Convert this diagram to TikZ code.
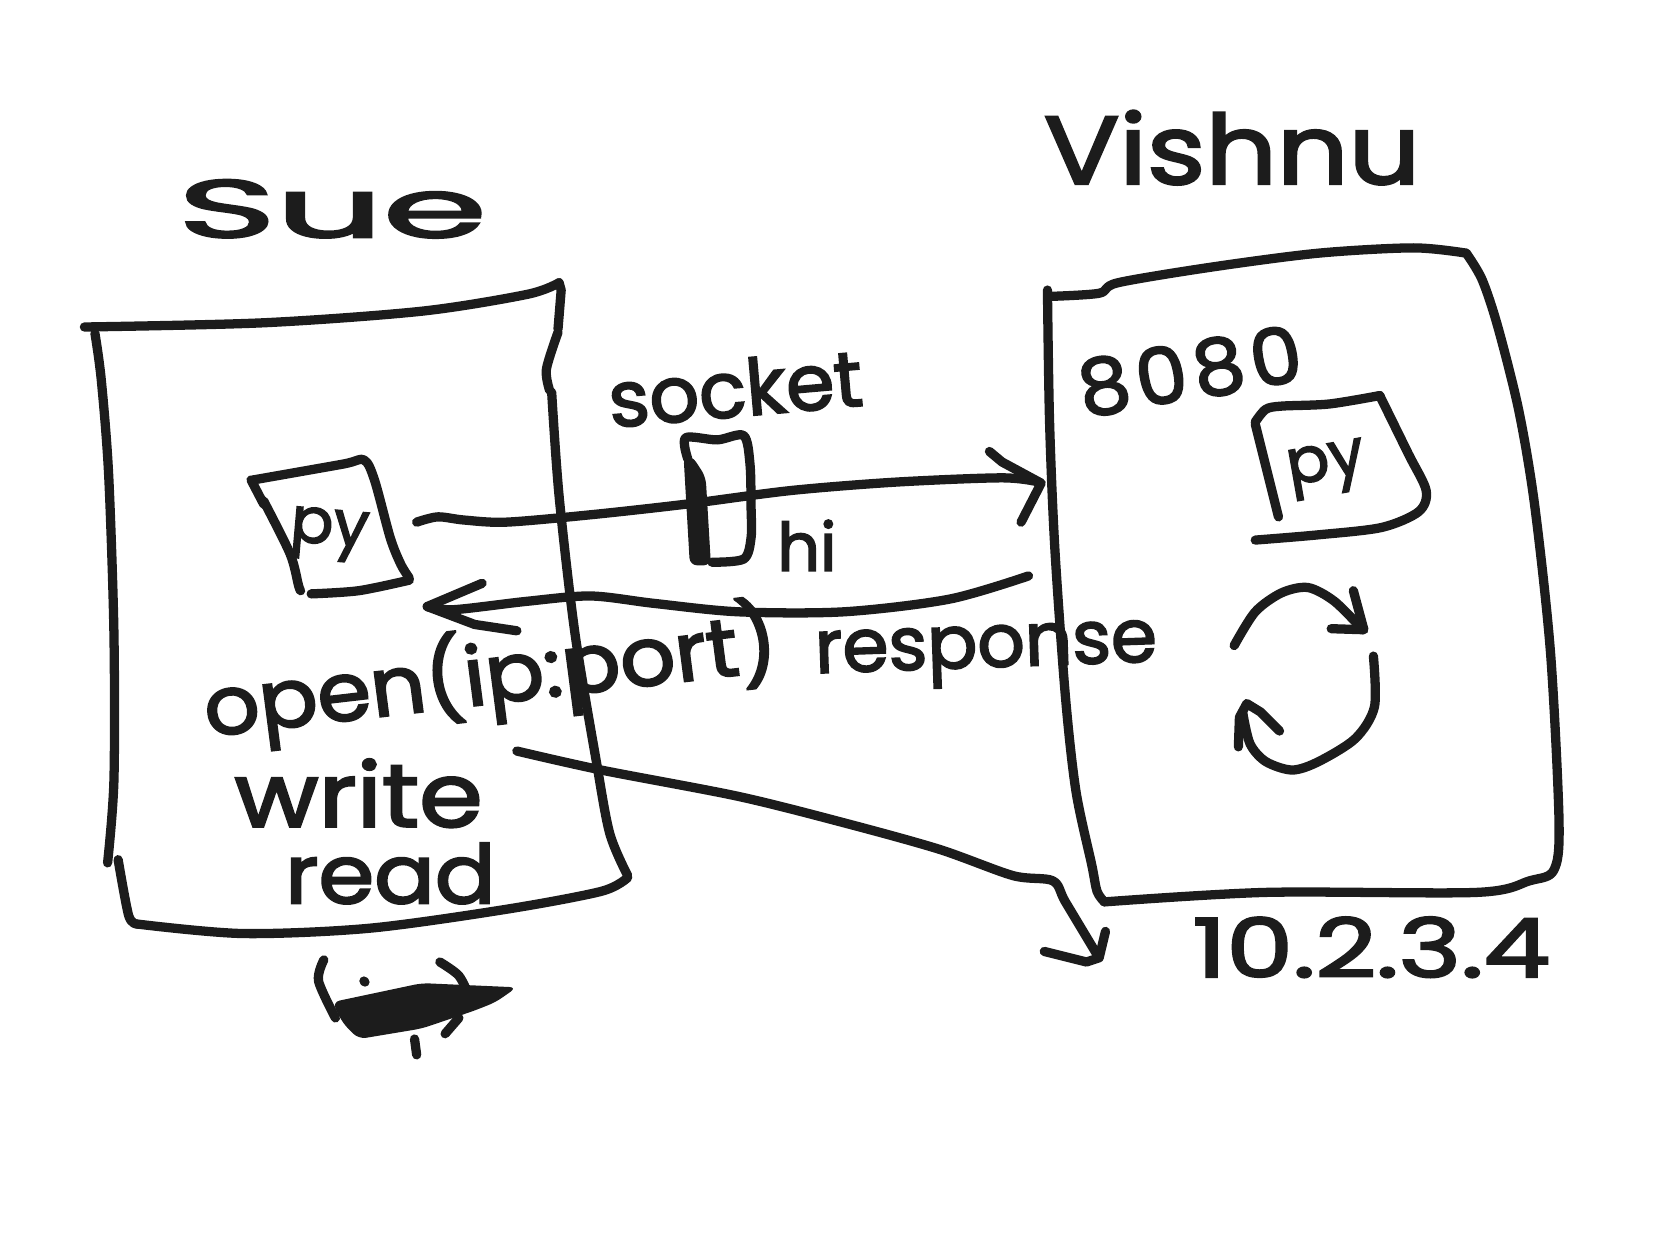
\documentclass[tikz,border=0pt]{standalone}
\usepackage{fontspec}
\newfontfamily\handfont{Poppins}[FakeBold=2.5]
\definecolor{ink}{HTML}{1C1C1C}
\tikzset{
	sketch/.style={color=ink, line width=2.5pt, line cap=round, line join=round},
	hand/.style={text=ink, inner sep=0pt, font=\fontsize{#1}{#1}\selectfont\handfont},
	hand/.default=18
}
\begin{document}
\begin{tikzpicture}[x=0.01cm, y=-0.01cm]
	\useasboundingbox (0,0) rectangle (1568,1176);

	% Draw left box
	\draw[sketch] plot[smooth] coordinates {(80,310) (250,306) (400,295) (500,279) (530,268)};
	\draw[sketch] (530,268) -- (532,275) -- (529,312);
	\draw[sketch] plot[smooth] coordinates {(529,315) (518,350) (521,370)};
	\draw[sketch] plot[smooth] coordinates {(523,372) (530,470) (545,600) (565,720) (578,790) (595,830)};
	\draw[sketch] plot[smooth] coordinates {(595,832) (570,845) (480,862) (350,880) (230,885) (130,876)};
	\draw[sketch] plot[smooth] coordinates {(130,876) (122,868) (112,815)};
	\draw[sketch] plot[smooth] coordinates {(90,316) (96,360) (103,450) (108,600) (108,740) (102,818)};

	% Draw right box
	\draw[sketch] plot[smooth] coordinates {(993,275) (995,400) (1000,520) (1010,660) (1020,750) (1035,820) (1040,845) (1047,855)};
	\draw[sketch] plot[smooth] coordinates {(1047,855) (1200,846) (1400,846) (1450,835) (1473,825) (1478,780) (1470,620) (1455,480) (1440,390) (1420,310) (1405,265) (1390,240)};
	\draw[sketch] plot[smooth] coordinates {(1390,240) (1340,235) (1250,240) (1150,253) (1060,268) (1042,278) (995,281)};

	% Left py box
	\draw[sketch] (250,478) -- (238,455);
	\draw[sketch] plot[smooth] coordinates {(240,455) (325,440) (345,436) (355,455) (370,510) (380,535) (388,548)};
	\draw[sketch] plot[smooth] coordinates {(388,550) (340,560) (295,563)};
	\draw[sketch] plot[smooth] coordinates {(250,475) (275,525) (283,555) (285,560)};
	\node[hand=17, rotate=-5] (pyleft) at (312,507) {py};

	% Right py box
	\draw[sketch] (1190,402) -- (1212,490);
	\draw[sketch] plot[smooth] coordinates {(1190,400) (1200,388) (1215,385) (1260,383) (1308,375)};
	\draw[sketch] plot[smooth] coordinates {(1308,375) (1335,430) (1352,465) (1345,485) (1310,500) (1250,507) (1190,512)};
	\node[hand=17, rotate=10] (pyright) at (1258,445) {py};

	% Socket
	\draw[sketch] plot[smooth] coordinates {(652,435) (650,415) (680,417) (705,413) (711,440) (712,480) (712,510) (705,530) (675,533)};
	\fill[ink, rounded corners=2pt] (648,432) -- (656,432) -- (669,452) -- (674,536) -- (654,536) -- cycle;

	% Request arrow
	\draw[sketch] plot[smooth] coordinates {(395,495) (415,490) (440,493) (480,495) (560,488) (650,478) (750,465) (850,457) (950,453) (985,457)};
	\draw[sketch] (938,428) -- (950,438) -- (987,458) -- (968,495);

	% Response arrow
	\draw[sketch] plot[smooth] coordinates {(975,546) (900,568) (800,580) (700,580) (620,572) (560,565) (500,570) (430,578) (405,575)};
	\draw[sketch] (457,553) -- (405,575) -- (450,592) -- (490,598);

	% Long arrow to the address
	\draw[sketch] plot[smooth] coordinates {(490,712) (570,730) (700,755) (800,780) (890,805) (960,830) (998,835) (1010,855) (1040,905)};
	\draw[sketch] (990,902) -- (1030,912) -- (1042,908) -- (1048,883);

	% Loop arrows
	\draw[sketch] plot[smooth] coordinates {(1170,612) (1190,580) (1215,562) (1240,557) (1265,570) (1292,597)};
	\draw[sketch] (1283,560) -- (1293,597) -- (1262,596);
	\draw[sketch] plot[smooth] coordinates {(1302,622) (1303,670) (1285,700) (1250,722) (1225,730) (1200,722) (1185,705) (1178,675)};
	\draw[sketch] (1174,708) -- (1175,680) -- (1182,667) -- (1195,675) -- (1213,693);

	% Scribbled out address
	\draw[sketch] plot[smooth] coordinates {(307,910) (302,930) (318,965)};
	\draw[sketch] (345,930) -- (346,931);
	\draw[sketch] plot[smooth] coordinates {(417,912) (435,925) (445,945)};
	\draw[sketch] plot[smooth] coordinates {(393,985) (395,1000)};
	\draw[sketch] plot[smooth] coordinates {(435,965) (422,980)};
	\fill[ink, rounded corners=2pt] (315,950) -- (400,932) -- (490,936) -- (470,950) -- (450,958) -- (400,975) -- (340,985) -- (325,970) -- cycle;

	%Add labels
	\node[hand=22, xscale=2.05] (sue) at (315,198) {Sue};
	\node[hand=26, xscale=1.16] (vishnu) at (1168,140) {Vishnu};
	\node[hand=21, rotate=5] (socket) at (697,368) {socket};
	\node[hand=21, xscale=1.05, rotate=10] (port) at (1128,352) {\addfontfeature{LetterSpace=8}8080};
	\node[hand=18] (hi) at (765,517) {hi};
	\node[hand=22, xscale=1.06, rotate=7] (open) at (465,641) {open(ip:port)};
	\node[hand=20, rotate=2] (response) at (935,622) {response};
	\node[hand=24, xscale=1.15] (write) at (340,752) {write};
	\node[hand=22, xscale=1.1] (read) at (370,828) {read};
	\node[hand=22, xscale=1.3] (addr) at (1300,898) {10.2.3.4};
\end{tikzpicture}
\end{document}
